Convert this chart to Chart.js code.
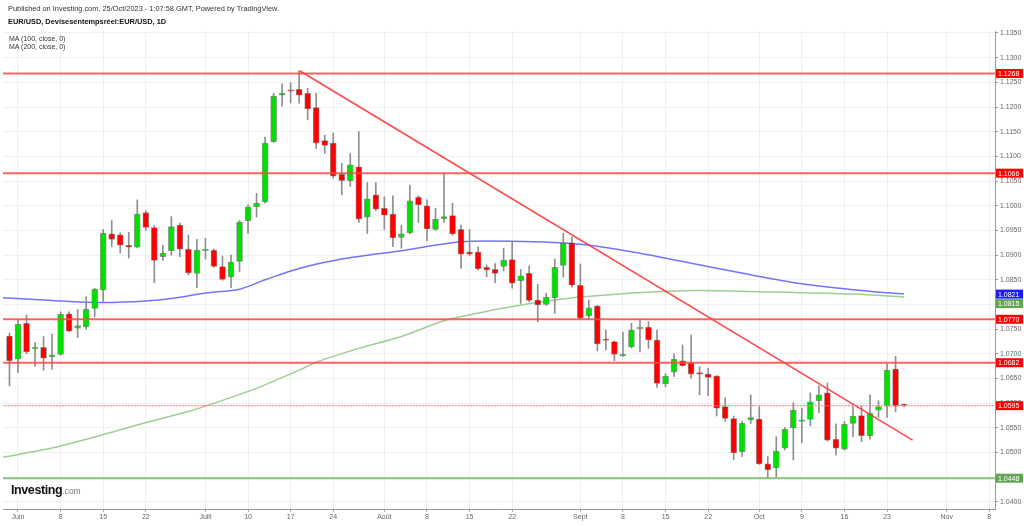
<!DOCTYPE html>
<html>
<head>
<meta charset="utf-8">
<script src="https://cdn.jsdelivr.net/npm/chart.js@4.4.0/dist/chart.umd.min.js"></script>
<style>
  html, body { margin: 0; padding: 0; background: #fff; }
  #wrap { position: relative; width: 1024px; height: 526px; font-family: "Liberation Sans", Arial, sans-serif; }
  #chart { position: absolute; left: 0; top: 0; }
  .txt { position: absolute; white-space: nowrap; color: #222; }
</style>
</head>
<body>
<div id="wrap">
  <canvas id="chart" width="1024" height="526"></canvas>
  <div class="txt" style="left:8px;top:4px;font-size:7.4px;color:#333;">Published on Investing.com, 25/Oct/2023 - 1:07:58 GMT, Powered by TradingView.</div>
  <div class="txt" style="left:8px;top:17px;font-size:7.4px;font-weight:bold;color:#111;">EUR/USD, Devisesentempsréel:EUR/USD, 1D</div>
  <div class="txt" style="left:9px;top:35px;font-size:7px;line-height:7.5px;color:#333;">MA (100, close, 0)<br>MA (200, close, 0)</div>
  <div class="txt" style="left:11px;top:483px;font-size:12.5px;font-weight:bold;letter-spacing:-0.4px;color:#111;">Investing<span style="font-size:8.5px;font-weight:normal;color:#777;letter-spacing:0;">.com</span></div>
</div>
<script>
// daily candles, trading-day index: -1 = 31 May 2023, 0 = 1 June ... 104 = 25 Oct 2023
const firstIndex = -1;
const opens = [
  1.0736, 1.0689, 1.0762, 1.0710, 1.0713, 1.0694, 1.0699, 1.0781, 1.0752, 1.0755,
  1.0792, 1.0829, 1.0943, 1.0941, 1.0920, 1.0916, 1.0986, 1.0956, 1.0897, 1.0909,
  1.0961, 1.0912, 1.0863, 1.0909, 1.0910, 1.0877, 1.0856, 1.0887, 1.0970, 1.0998,
  1.1008, 1.1130, 1.1224, 1.1234, 1.1236, 1.1228, 1.1199, 1.1132, 1.1127, 1.1064,
  1.1051, 1.1079, 1.0977, 1.1022, 1.0995, 1.0983, 1.0936, 1.0945, 1.1017, 1.1000,
  1.0952, 1.0974, 1.0980, 1.0952, 1.0906, 1.0906, 1.0875, 1.0871, 1.0877, 1.0891,
  1.0848, 1.0863, 1.0809, 1.0800, 1.0814, 1.0879, 1.0925, 1.0839, 1.0777, 1.0797,
  1.0729, 1.0725, 1.0696, 1.0714, 1.0751, 1.0754, 1.0728, 1.0639, 1.0663, 1.0686,
  1.0682, 1.0660, 1.0659, 1.0655, 1.0593, 1.0569, 1.0502, 1.0566, 1.0568, 1.0477,
  1.0469, 1.0509, 1.0550, 1.0563, 1.0567, 1.0605, 1.0621, 1.0527, 1.0507, 1.0559,
  1.0575, 1.0534, 1.0586, 1.0594, 1.0669, 1.0596
];
const highs = [
  1.0742, 1.0769, 1.0779, 1.0723, 1.0735, 1.0740, 1.0785, 1.0785, 1.0790, 1.0816,
  1.0833, 1.0952, 1.0970, 1.0945, 1.0946, 1.1012, 1.0990, 1.0960, 1.0920, 1.0978,
  1.0965, 1.0941, 1.0932, 1.0934, 1.0912, 1.0898, 1.0900, 1.0970, 1.1002, 1.1025,
  1.1139, 1.1228, 1.1247, 1.1249, 1.1274, 1.1238, 1.1228, 1.1143, 1.1147, 1.1086,
  1.1106, 1.1150, 1.1047, 1.1047, 1.1018, 1.1020, 1.0961, 1.1042, 1.1020, 1.1012,
  1.0995, 1.1064, 1.1005, 1.0961, 1.0952, 1.0917, 1.0880, 1.0883, 1.0914, 1.0927,
  1.0871, 1.0878, 1.0841, 1.0823, 1.0892, 1.0944, 1.0937, 1.0882, 1.0809, 1.0798,
  1.0748, 1.0726, 1.0744, 1.0762, 1.0770, 1.0765, 1.0748, 1.0660, 1.0700, 1.0718,
  1.0738, 1.0674, 1.0671, 1.0656, 1.0611, 1.0574, 1.0563, 1.0617, 1.0593, 1.0492,
  1.0532, 1.0551, 1.0601, 1.0590, 1.0621, 1.0635, 1.0641, 1.0558, 1.0563, 1.0594,
  1.0594, 1.0617, 1.0605, 1.0679, 1.0695, 1.0598
];
const lows = [
  1.0635, 1.0662, 1.0700, 1.0675, 1.0667, 1.0669, 1.0697, 1.0745, 1.0733, 1.0750,
  1.0775, 1.0806, 1.0917, 1.0904, 1.0894, 1.0915, 1.0950, 1.0844, 1.0889, 1.0900,
  1.0897, 1.0860, 1.0834, 1.0892, 1.0875, 1.0849, 1.0834, 1.0866, 1.0944, 1.0977,
  1.1005, 1.1128, 1.1202, 1.1208, 1.1208, 1.1174, 1.1116, 1.1106, 1.1056, 1.1022,
  1.1039, 1.0966, 1.0944, 1.0990, 1.0952, 1.0917, 1.0914, 1.0943, 1.0966, 1.0929,
  1.0950, 1.0966, 1.0940, 1.0873, 1.0899, 1.0870, 1.0856, 1.0844, 1.0868, 1.0833,
  1.0802, 1.0805, 1.0765, 1.0798, 1.0782, 1.0855, 1.0835, 1.0770, 1.0772, 1.0706,
  1.0708, 1.0686, 1.0695, 1.0712, 1.0704, 1.0711, 1.0632, 1.0633, 1.0654, 1.0675,
  1.0650, 1.0617, 1.0615, 1.0574, 1.0563, 1.0486, 1.0492, 1.0559, 1.0476, 1.0448,
  1.0451, 1.0505, 1.0485, 1.0520, 1.0554, 1.0581, 1.0523, 1.0495, 1.0505, 1.0532,
  1.0522, 1.0527, 1.0571, 1.0571, 1.0583, 1.0593
];
const closes = [
  1.0686, 1.0760, 1.0704, 1.0711, 1.0691, 1.0698, 1.0780, 1.0746, 1.0757, 1.0790,
  1.0831, 1.0944, 1.0932, 1.0920, 1.0916, 1.0983, 1.0956, 1.0889, 1.0904, 1.0958,
  1.0912, 1.0864, 1.0910, 1.0911, 1.0877, 1.0851, 1.0886, 1.0967, 1.0998, 1.1005,
  1.1127, 1.1222, 1.1228, 1.1232, 1.1224, 1.1196, 1.1127, 1.1122, 1.1060, 1.1051,
  1.1083, 1.0973, 1.1014, 1.0993, 1.0981, 1.0935, 1.0943, 1.1010, 1.1002, 1.0953,
  1.0973, 1.0978, 1.0943, 1.0902, 1.0902, 1.0872, 1.0870, 1.0863, 1.0890, 1.0843,
  1.0858, 1.0808, 1.0799, 1.0815, 1.0875, 1.0924, 1.0839, 1.0772, 1.0793, 1.0720,
  1.0727, 1.0699, 1.0699, 1.0748, 1.0753, 1.0728, 1.0640, 1.0655, 1.0689, 1.0676,
  1.0659, 1.0659, 1.0652, 1.0590, 1.0569, 1.0499, 1.0559, 1.0571, 1.0477, 1.0465,
  1.0503, 1.0547, 1.0586, 1.0566, 1.0603, 1.0617, 1.0525, 1.0509, 1.0557, 1.0574,
  1.0534, 1.0580, 1.0593, 1.0667, 1.0594, 1.0595
];

// moving averages at a few trading-day indices
const ma100Idx = [-2, 4, 10, 15, 18, 22, 26, 29, 33, 38, 45, 52, 58, 66, 73, 78, 86, 92, 98, 104];
const ma100Val = [1.0814, 1.0808, 1.0804, 1.0807, 1.0812, 1.0823, 1.0831, 1.0850, 1.0873, 1.0892,
                  1.0909, 1.0927, 1.0928, 1.0922, 1.0904, 1.0887, 1.0860, 1.0842, 1.0830, 1.0821];
const ma200Idx = [-2, 4, 10, 14, 20, 22, 28, 33, 35, 40, 45, 50, 53, 58, 66, 78, 87, 98, 104];
const ma200Val = [1.0490, 1.0509, 1.0536, 1.0556, 1.0583, 1.0594, 1.0630, 1.0667, 1.0683, 1.0711,
                  1.0735, 1.0767, 1.0779, 1.0796, 1.0815, 1.0828, 1.0826, 1.0821, 1.0815];

// drawn levels and trend line
const redLevels = [1.1268, 1.1066, 1.0770, 1.0682];
const greenLevel = 1.0448;
const lastPrice = 1.0595;
const trendIdx = [33.1, 105];
const trendVal = [1.1273, 1.0525];

// price tags on the right axis
const tagValues = [1.1268, 1.1066, 1.0821, 1.0815, 1.0770, 1.0682, 1.0595, 1.0448];
const tagColors = ["#ff0000", "#ff0000", "#1a1aff", "#62a552", "#ff0000", "#ff0000", "#ff0000", "#62a552"];

// axis ticks
const yTicks = [1.135, 1.13, 1.125, 1.12, 1.115, 1.11, 1.105, 1.10, 1.095, 1.09, 1.085, 1.08,
                1.075, 1.07, 1.065, 1.06, 1.055, 1.05, 1.045, 1.04];
const xTickIdx = [0, 5, 10, 15, 22, 27, 32, 37, 43, 48, 53, 58, 66, 71, 76, 81, 87, 92, 97, 102, 109, 114];
const xTickLabels = ["Juin", "8", "15", "22", "Juill", "10", "17", "24", "Août", "8", "15", "22",
                     "Sept", "8", "15", "22", "Oct", "9", "16", "23", "Nov", "8"];

const FONT = "'Liberation Sans', Arial, sans-serif";
const UP = "#00e000";
const DOWN = "#ff0000";

const xs = opens.map((_, i) => i + firstIndex);
const isUp = i => closes[i] >= opens[i];

const hline = (v, color, width, dash) => ({
  type: "line",
  data: [{ x: -10, y: v }, { x: 130, y: v }],
  borderColor: color,
  borderWidth: width,
  borderDash: dash || [],
  pointRadius: 0,
  order: 0
});

// tags that would overlap get pushed down, like the original axis does
const priceTags = {
  id: "priceTags",
  afterDraw(chart) {
    const ctx = chart.ctx;
    const y = chart.scales.y;
    ctx.save();
    ctx.font = "7px " + FONT;
    ctx.textBaseline = "middle";
    let lastY = -100;
    tagValues.forEach((v, i) => {
      let py = y.getPixelForValue(v);
      if (py - lastY < 9.5) py = lastY + 9.5;
      lastY = py;
      ctx.fillStyle = tagColors[i];
      ctx.fillRect(996, py - 4.5, 27, 9);
      ctx.fillStyle = "#fff";
      ctx.fillText(v.toFixed(4), 998, py + 0.5);
    });
    ctx.restore();
  }
};

new Chart(document.getElementById("chart"), {
  type: "bar",
  data: {
    datasets: [
      ...redLevels.map(v => hline(v, "rgba(255,70,70,0.85)", 2)),
      hline(greenLevel, "rgba(120,190,110,0.9)", 2),
      hline(lastPrice, "rgba(255,130,130,0.9)", 1.2, [2, 1]),
      {
        type: "line",
        data: trendIdx.map((x, i) => ({ x, y: trendVal[i] })),
        borderColor: "rgba(255,50,50,0.9)",
        borderWidth: 1.5,
        pointRadius: 0,
        order: 0
      },
      {
        label: "bodies",
        data: xs.map((x, i) => ({ x, y: [opens[i], closes[i]] })),
        backgroundColor: c => isUp(c.dataIndex) ? UP : DOWN,
        borderColor: "rgba(70,70,70,0.55)",
        borderWidth: 0.8,
        borderSkipped: false,
        barThickness: 6,
        minBarLength: 1.5,
        grouped: false,
        order: 1
      },
      {
        label: "wicks",
        data: xs.map((x, i) => ({ x, y: [lows[i], highs[i]] })),
        backgroundColor: "#8f8f8f",
        borderWidth: 0,
        barThickness: 1,
        grouped: false,
        order: 2
      },
      {
        type: "line",
        data: ma100Idx.map((x, i) => ({ x, y: ma100Val[i] })),
        borderColor: "rgba(90,90,255,0.85)",
        borderWidth: 1.5,
        pointRadius: 0,
        tension: 0.3,
        order: 3
      },
      {
        type: "line",
        data: ma200Idx.map((x, i) => ({ x, y: ma200Val[i] })),
        borderColor: "rgba(150,200,140,0.9)",
        borderWidth: 1.5,
        pointRadius: 0,
        tension: 0.3,
        order: 3
      }
    ]
  },
  options: {
    responsive: false,
    animation: false,
    layout: { padding: { left: 3, top: 31, right: 0, bottom: 0 } },
    plugins: { legend: { display: false }, tooltip: { enabled: false } },
    scales: {
      x: {
        type: "linear",
        min: -1.76,
        max: 114.67,
        offset: false,
        afterBuildTicks: s => { s.ticks = xTickIdx.map(v => ({ value: v })); },
        afterFit: s => { s.height = 17; },
        grid: { color: "#f0f0f0", tickColor: "#aaa", tickLength: 3, offset: false },
        border: { color: "#999" },
        ticks: {
          autoSkip: false,
          maxRotation: 0,
          padding: 1,
          color: "#666",
          font: { size: 7, family: FONT },
          callback: (v, i) => xTickLabels[i]
        }
      },
      y: {
        position: "right",
        min: 1.038562,
        max: 1.135405,
        afterBuildTicks: s => { s.ticks = yTicks.map(v => ({ value: v })); },
        afterFit: s => { s.width = 29; },
        grid: { color: "#f0f0f0", tickColor: "#999", tickLength: 3 },
        border: { color: "#999" },
        ticks: {
          padding: 2,
          color: "#666",
          font: { size: 7, family: FONT },
          callback: v => v.toFixed(4)
        }
      }
    }
  },
  plugins: [priceTags]
});
</script>
</body>
</html>
